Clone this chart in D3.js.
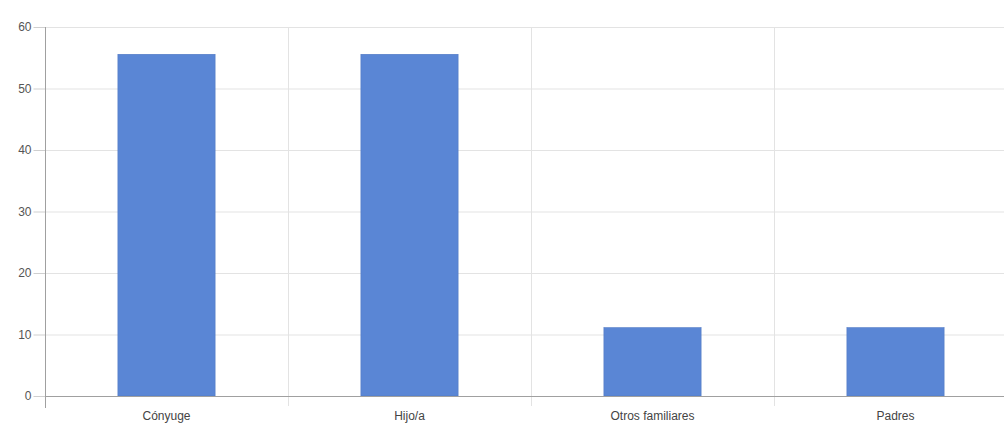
<!DOCTYPE html>
<html><head><meta charset="utf-8">
<script src="https://cdn.jsdelivr.net/npm/d3@7"></script>
<style>body{margin:0;background:#fff;overflow:hidden}svg{display:block}</style>
</head><body>
<script>
const categories = ["Cónyuge", "Hijo/a", "Otros familiares", "Padres"];
const values = [55.56, 55.56, 11.11, 11.11];
const yTicks = [0, 10, 20, 30, 40, 50, 60];

const W = 1004, H = 426;
const m = {left: 45, top: 27, bottom: 30};
const plotW = 972, y0 = 396;
const svg = d3.select("body").append("svg").attr("width", W).attr("height", H);

const x = d3.scaleBand().domain(categories).range([m.left, m.left + plotW]).paddingInner(0).paddingOuter(0);
const y = d3.scaleLinear().domain([0, 60]).range([y0, m.top]);

// horizontal grid
svg.append("g").selectAll("line").data(yTicks.filter(d => d > 0)).join("line")
  .attr("x1", m.left).attr("x2", W).attr("y1", d => y(d) + 0.5).attr("y2", d => y(d) + 0.5)
  .attr("stroke", "#e3e3e3");
// vertical grid
svg.append("g").selectAll("line").data(categories.slice(1)).join("line")
  .attr("x1", d => Math.round(x(d)) + 0.5).attr("x2", d => Math.round(x(d)) + 0.5)
  .attr("y1", m.top).attr("y2", y0 + 10).attr("stroke", "#e3e3e3");

// bars
const bw = x.bandwidth() * 0.4;
svg.append("g").selectAll("rect").data(values).join("rect")
  .attr("x", (d, i) => x(categories[i]) + (x.bandwidth() - bw) / 2)
  .attr("y", d => y(d)).attr("width", bw).attr("height", d => y0 - y(d))
  .attr("fill", "#5a86d5").attr("stroke", "#4f78c4").attr("stroke-width", 0.6);

// y axis
const ya = svg.append("g").attr("transform", `translate(${m.left + 0.5},0)`)
  .call(d3.axisLeft(y).tickValues(yTicks).tickSize(12).tickPadding(2));
ya.select(".domain").remove();
ya.selectAll(".tick line").attr("stroke", "#cfcfcf");
ya.selectAll("text").attr("fill", "#555").style("font-family", "Liberation Sans, Arial, sans-serif").style("font-size", "12px");
svg.append("line").attr("x1", m.left + 0.5).attr("x2", m.left + 0.5).attr("y1", m.top).attr("y2", y0 + 12)
  .attr("stroke", "#a0a0a0");

// x axis
const xa = svg.append("g").attr("transform", `translate(0,${y0 + 0.5})`)
  .call(d3.axisBottom(x).tickSize(0).tickPadding(15));
xa.select(".domain").remove();
xa.selectAll("text").attr("fill", "#444").style("font-family", "Liberation Sans, Arial, sans-serif").style("font-size", "12px");
svg.append("line").attr("x1", m.left).attr("x2", W).attr("y1", y0 + 0.5).attr("y2", y0 + 0.5).attr("stroke", "#a0a0a0");
</script>
</body></html>
